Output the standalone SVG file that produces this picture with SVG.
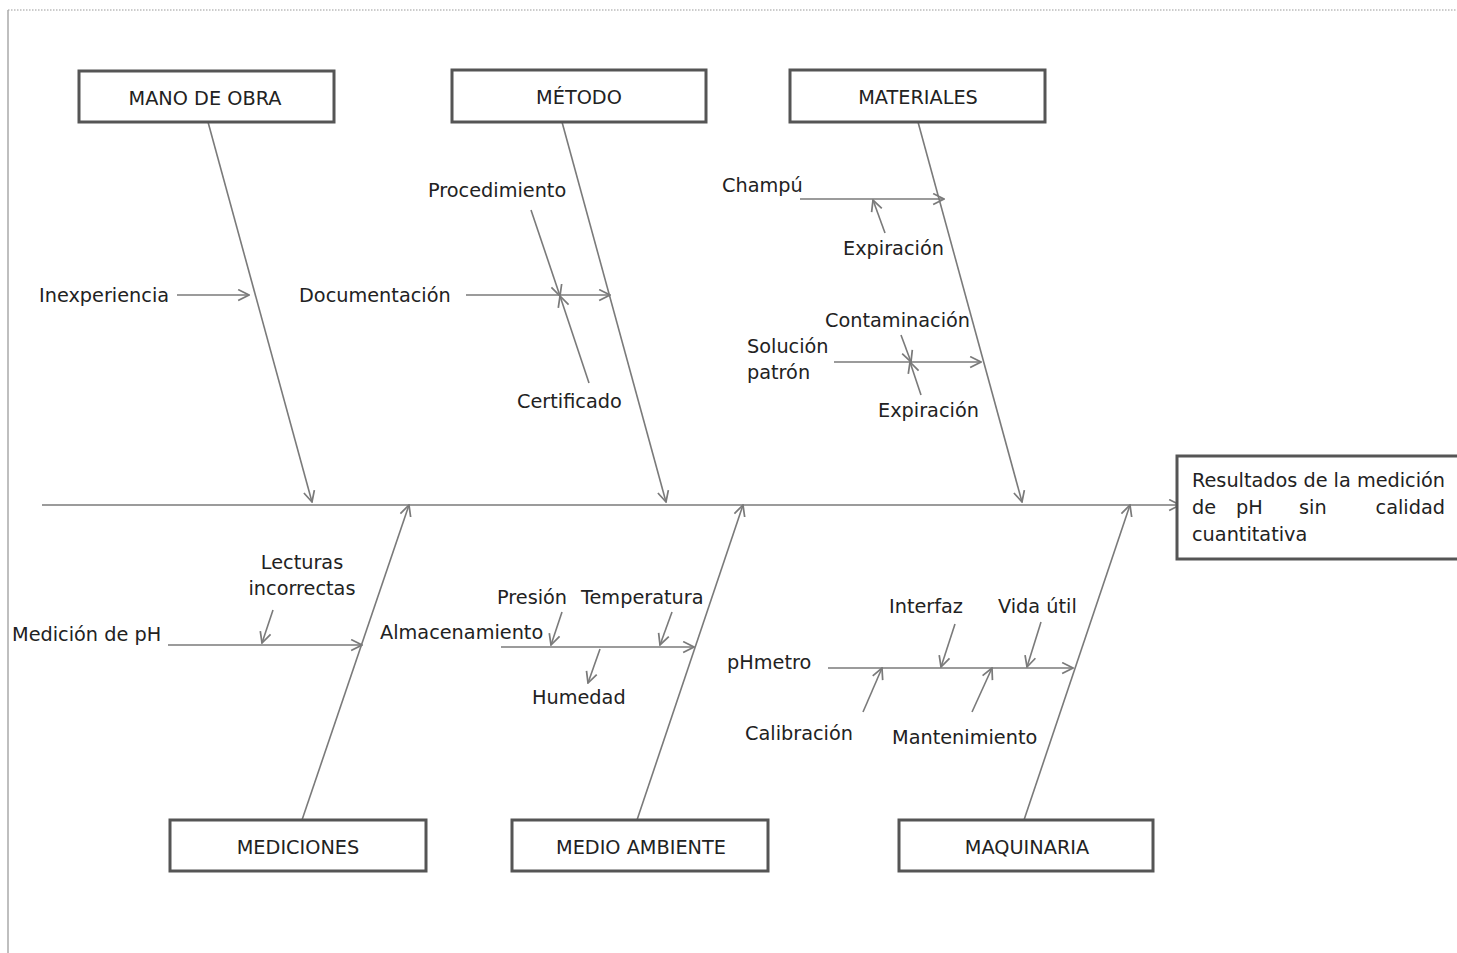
<svg xmlns="http://www.w3.org/2000/svg" width="1457" height="953" viewBox="0 0 1457 953">
  <style>
    .box { fill: #fff; stroke: #555; stroke-width: 3; }
    .ln { stroke: #7a7a7a; stroke-width: 1.6; fill: none; }
    .arr { marker-end: url(#v); }
    text { font-family: "DejaVu Sans", "Liberation Sans", sans-serif; font-size: 19.3px; fill: #222; }
    .c { text-anchor: middle; }
  </style>
  <defs>
    <marker id="v" viewBox="0 0 12 12" refX="11" refY="6" markerWidth="13" markerHeight="13" markerUnits="userSpaceOnUse" orient="auto">
      <path d="M1,1 L11,6 L1,11" fill="none" stroke="#7a7a7a" stroke-width="1.6"/>
    </marker>
  </defs>
  <rect width="1457" height="953" fill="#fff"/>
  <!-- frame -->
  <line x1="8" y1="10" x2="1457" y2="10" stroke="#999" stroke-width="1.2" stroke-dasharray="1.5 1.5"/>
  <line x1="8" y1="10" x2="8" y2="953" stroke="#aaa" stroke-width="1.5"/>

  <g id="connectors">
    <!-- spine -->
    <line class="ln arr" x1="42" y1="505" x2="1180" y2="505"/>
    <!-- main bones -->
    <line class="ln arr" x1="208" y1="122" x2="312" y2="502"/>
    <line class="ln arr" x1="562" y1="122" x2="666" y2="502"/>
    <line class="ln arr" x1="918" y1="122" x2="1022" y2="502"/>
    <line class="ln arr" x1="302" y1="820" x2="409" y2="505"/>
    <line class="ln arr" x1="637" y1="820" x2="743" y2="505"/>
    <line class="ln arr" x1="1024" y1="820" x2="1130" y2="505"/>
    <!-- mano de obra -->
    <line class="ln arr" x1="177" y1="295" x2="249" y2="295"/>
    <!-- método -->
    <line class="ln arr" x1="466" y1="295" x2="610" y2="295"/>
    <line class="ln arr" x1="531" y1="210" x2="560" y2="296"/>
    <line class="ln arr" x1="589" y1="383" x2="560" y2="296"/>
    <!-- materiales -->
    <line class="ln arr" x1="800" y1="199" x2="944" y2="199"/>
    <line class="ln arr" x1="885" y1="233" x2="873" y2="200"/>
    <line class="ln arr" x1="834" y1="362" x2="981" y2="362"/>
    <line class="ln arr" x1="901" y1="335" x2="911" y2="362"/>
    <line class="ln arr" x1="921" y1="395" x2="910" y2="362"/>
    <!-- mediciones -->
    <line class="ln arr" x1="168" y1="645" x2="362" y2="645"/>
    <line class="ln arr" x1="273" y1="610" x2="262" y2="643"/>
    <!-- medio ambiente -->
    <line class="ln arr" x1="501" y1="647" x2="694" y2="647"/>
    <line class="ln arr" x1="562" y1="612" x2="551" y2="645"/>
    <line class="ln arr" x1="672" y1="612" x2="660" y2="645"/>
    <line class="ln arr" x1="600" y1="649" x2="588" y2="683"/>
    <!-- maquinaria -->
    <line class="ln arr" x1="828" y1="668" x2="1073" y2="668"/>
    <line class="ln arr" x1="863" y1="712" x2="882" y2="668"/>
    <line class="ln arr" x1="955" y1="624" x2="941" y2="667"/>
    <line class="ln arr" x1="972" y1="712" x2="992" y2="668"/>
    <line class="ln arr" x1="1041" y1="622" x2="1027" y2="667"/>
  </g>

  <g id="mano-de-obra">
    <rect class="box" x="79" y="71" width="255" height="51"/>
    <text class="c" x="205" y="105">MANO DE OBRA</text>
  </g>
  <g id="metodo">
    <rect class="box" x="452" y="70" width="254" height="52"/>
    <text class="c" x="579" y="104">MÉTODO</text>
  </g>
  <g id="materiales">
    <rect class="box" x="790" y="70" width="255" height="52"/>
    <text class="c" x="918" y="104">MATERIALES</text>
  </g>
  <g id="mediciones">
    <rect class="box" x="170" y="820" width="256" height="51"/>
    <text class="c" x="298" y="854">MEDICIONES</text>
  </g>
  <g id="medio-ambiente">
    <rect class="box" x="512" y="820" width="256" height="51"/>
    <text class="c" x="641" y="854">MEDIO AMBIENTE</text>
  </g>
  <g id="maquinaria">
    <rect class="box" x="899" y="820" width="254" height="51"/>
    <text class="c" x="1027" y="854">MAQUINARIA</text>
  </g>
  <g id="efecto">
    <rect class="box" x="1177" y="456" width="285" height="103"/>
    <text x="1192" y="487" textLength="253" lengthAdjust="spacing">Resultados de la medición</text>
    <text x="1192" y="514">de</text>
    <text x="1236" y="514">pH</text>
    <text x="1299" y="514">sin</text>
    <text x="1445" y="514" text-anchor="end">calidad</text>
    <text x="1192" y="541">cuantitativa</text>
  </g>

  <g id="causas">
    <text x="39" y="302">Inexperiencia</text>
    <text x="299" y="302">Documentación</text>
    <text x="428" y="197">Procedimiento</text>
    <text x="517" y="408">Certificado</text>
    <text x="722" y="192">Champú</text>
    <text x="843" y="255">Expiración</text>
    <text x="825" y="327">Contaminación</text>
    <text x="747" y="353">Solución</text>
    <text x="747" y="379">patrón</text>
    <text x="878" y="417">Expiración</text>
    <text class="c" x="302" y="569">Lecturas</text>
    <text class="c" x="302" y="595">incorrectas</text>
    <text x="12" y="641">Medición de pH</text>
    <text x="380" y="639">Almacenamiento</text>
    <text x="497" y="604">Presión</text>
    <text x="581" y="604">Temperatura</text>
    <text x="532" y="704">Humedad</text>
    <text x="727" y="669">pHmetro</text>
    <text x="745" y="740">Calibración</text>
    <text x="889" y="613">Interfaz</text>
    <text x="892" y="744">Mantenimiento</text>
    <text x="998" y="613">Vida útil</text>
  </g>
</svg>
